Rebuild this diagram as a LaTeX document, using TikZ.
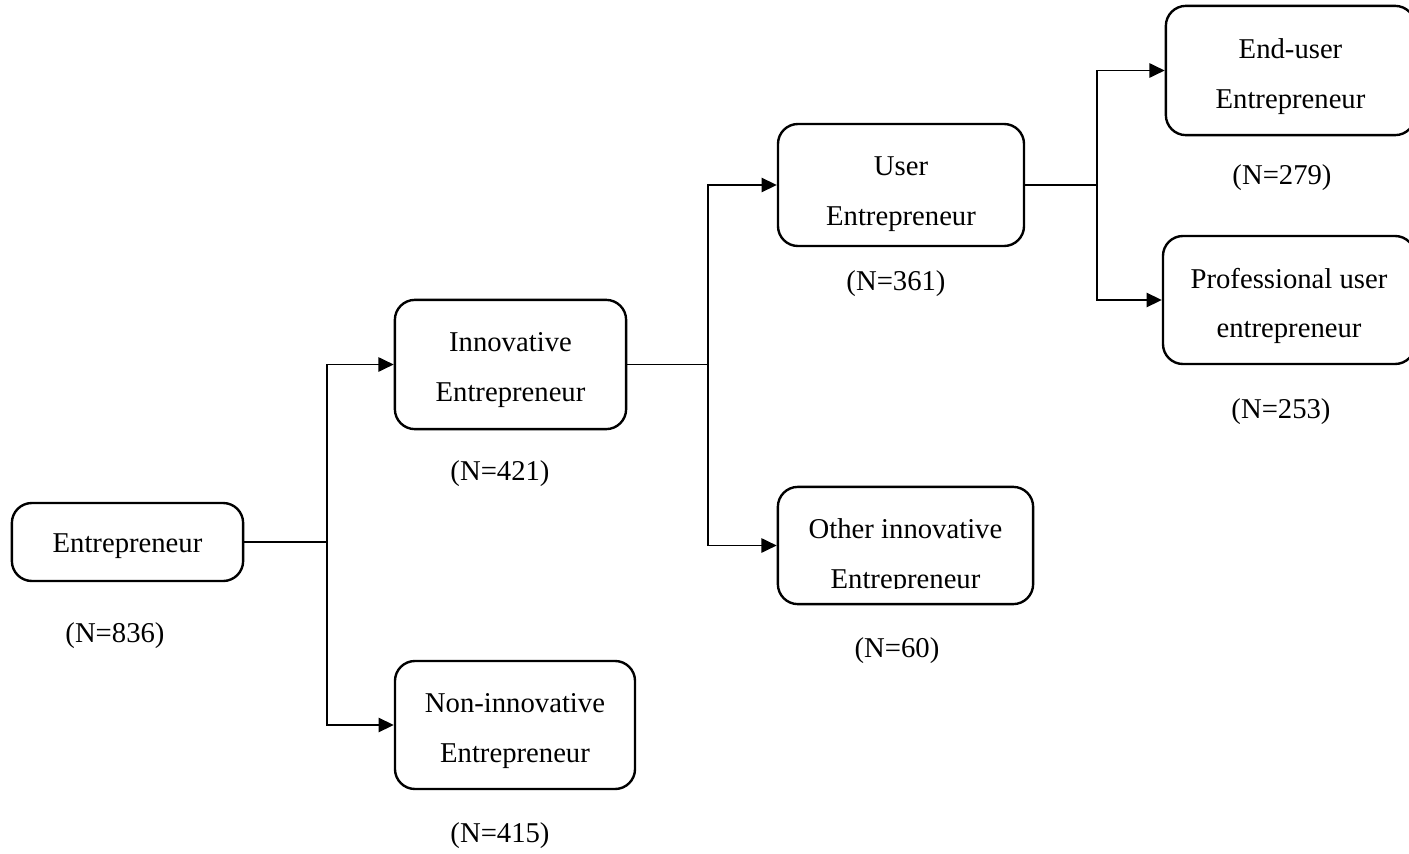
\documentclass[tikz,border=0pt]{standalone}
\usepackage{fontspec}
\setmainfont{Liberation Serif}
\usetikzlibrary{arrows.meta}

\tikzset{
  box/.style={draw, line width=1.7pt, rounded corners=0.5cm, inner sep=0pt},
  boxtext/.style={align=center, inner sep=0pt, font=\fontsize{20.4}{35.4}\selectfont},
  count/.style={font=\fontsize{20.4}{24}\selectfont},
  link/.style={line width=0.9pt},
  arrow/.style={link, -{Triangle[length=0.38cm,width=0.36cm]}}
}

\begin{document}
\begin{tikzpicture}[x=0.025cm, y=-0.025cm]
  \useasboundingbox (0,0) rectangle (1409,854);

  \node (ent) [box, minimum width=5.78cm, minimum height=1.95cm] at (127.5,542) {};
  \node (inn) [box, minimum width=5.78cm, minimum height=3.23cm] at (510.5,364.5) {};
  \node (non) [box, minimum width=6.0cm, minimum height=3.2cm] at (515,725) {};
  \node (usr) [box, minimum width=6.15cm, minimum height=3.05cm] at (901,185) {};
  \node (oth) [box, minimum width=6.38cm, minimum height=2.93cm] at (905.5,545.5) {};
  \node (end) [box, minimum width=6.23cm, minimum height=3.23cm] at (1290.5,70.5) {};
  \node (pro) [box, minimum width=6.3cm, minimum height=3.2cm] at (1289,300) {};

  \node (ent_t) [boxtext] at (127.5,546) {Entrepreneur};
  \node (inn_t) [boxtext] at (510.5,370) {Innovative\\Entrepreneur};
  \node (non_t) [boxtext] at (515,731) {Non-innovative\\Entrepreneur};
  \node (usr_t) [boxtext] at (901,194) {User\\Entrepreneur};
  \begin{scope}
    \clip (778,487) rectangle (1033,588);
    \node (oth_t) [boxtext] at (905.5,556.5) {Other innovative\\Entrepreneur};
  \end{scope}
  \node (end_t) [boxtext] at (1290.5,76.5) {End-user\\Entrepreneur};
  \node (pro_t) [boxtext] at (1289,306) {Professional user\\entrepreneur};

  \node (n_ent) [count] at (115,636) {(N=836)};
  \node (n_inn) [count] at (500,474) {(N=421)};
  \node (n_non) [count] at (500,836) {(N=415)};
  \node (n_usr) [count] at (896,284) {(N=361)};
  \node (n_oth) [count] at (897,651) {(N=60)};
  \node (n_end) [count] at (1282,178) {(N=279)};
  \node (n_pro) [count] at (1281,412) {(N=253)};

  \coordinate (j1) at (327,542);
  \coordinate (j2) at (708,364.5);
  \coordinate (j3) at (1097,185);

  \draw[link] (ent.east) -- (j1);
  \draw[arrow] (j1) |- (inn.west);
  \draw[arrow] (j1) |- (non.west);
  \draw[link] (inn.east) -- (j2);
  \draw[arrow] (j2) |- (usr.west);
  \draw[arrow] (j2) |- (oth.west);
  \draw[link] (usr.east) -- (j3);
  \draw[arrow] (j3) |- (end.west);
  \draw[arrow] (j3) |- (pro.west);
\end{tikzpicture}
\end{document}
